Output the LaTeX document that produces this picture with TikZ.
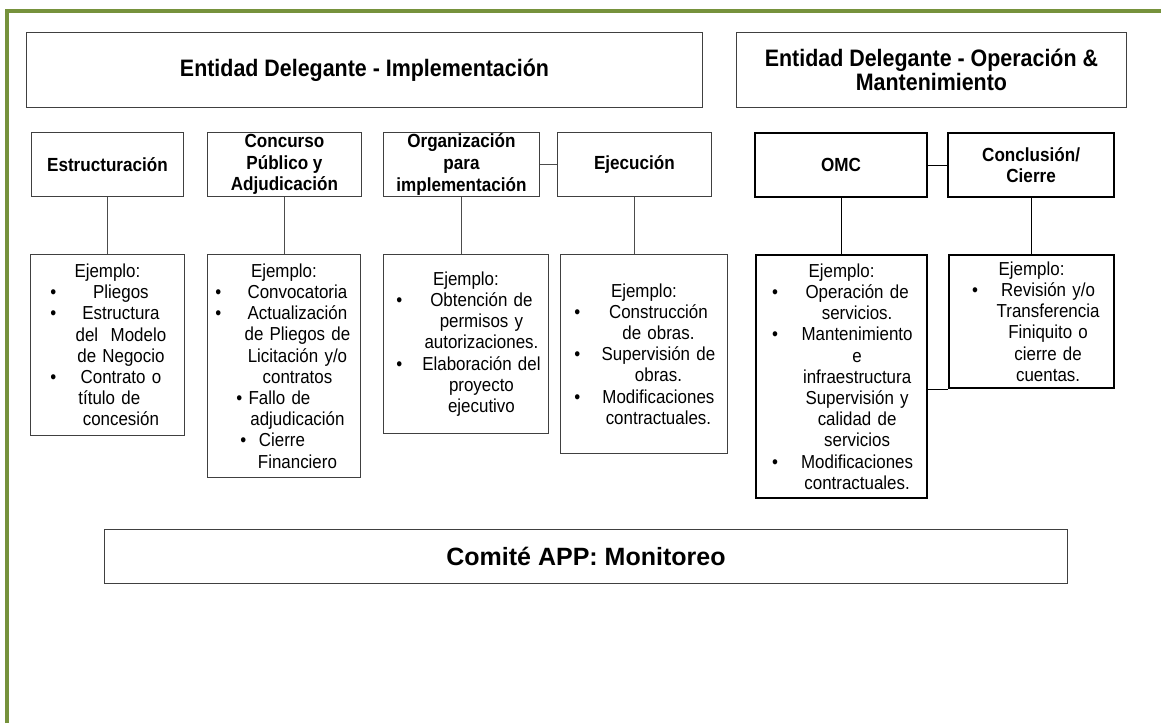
\documentclass[tikz,border=0pt]{standalone}
\usepackage{fontspec}
\setmainfont{Liberation Sans}[FakeStretch=0.9]
\newfontfamily\widesans{Liberation Sans}
\definecolor{framegreen}{RGB}{118,146,60}

\newlength\bulx
\newlength\txtx
\newcommand\bl[1]{\makebox[\linewidth][l]{\hspace{\bulx}\makebox[0pt]{\textbullet}\hspace{\dimexpr\txtx-\bulx\relax}\makebox[\dimexpr\linewidth-\txtx\relax]{#1}}}
\newcommand\ct[1]{\makebox[\linewidth][l]{\hspace{\txtx}\makebox[\dimexpr\linewidth-\txtx\relax]{#1}}}
\newcommand\lpos[2]{\makebox[\linewidth][l]{\hspace{#1}#2}}

\begin{document}
\begin{tikzpicture}[x=1pt, y=-1pt,
	topbox/.style={draw=black!75, line width=0.9pt, anchor=north west, align=center, minimum height=75, font=\fontsize{23.8}{23.5}\selectfont\bfseries},
	hdr/.style={draw=black!75, line width=0.9pt, anchor=north west, align=center, minimum height=64, inner sep=1pt, font=\fontsize{19}{21.7}\selectfont\bfseries},
	ex/.style={draw=black!75, line width=0.9pt, anchor=north west, align=center, inner xsep=0pt, inner ysep=2pt, font=\fontsize{18.8}{21.2}\selectfont},
	om/.style={draw=black, line width=2.2pt},
	bul/.style 2 args={execute at begin node={\setlength\bulx{#1}\setlength\txtx{#2}}},
	link/.style={draw=black!70, line width=0.9pt}]
	\useasboundingbox (0,0) rectangle (1161,723);
	\draw[framegreen, line width=4pt] (7.2,723) -- (7.2,11.3) -- (1161,11.3);
	
	\node[topbox, minimum width=676]                               (impl) at (26,32) {Entidad Delegante - Implementación};
	\node[topbox, minimum width=390]                               (opm) at (736,32) {Entidad Delegante - Operación \&\\Mantenimiento};
	
	\node[hdr, minimum width=152]                               (estr) at (31,132) {Estructuración};
	\node[hdr, minimum width=154]                               (conc) at (207,132) {Concurso\\Público y\\Adjudicación};
	\node[hdr, minimum width=156]                               (org) at (383,132) {Organización\\para\\implementación};
	\node[hdr, minimum width=154]                               (ejec) at (557,132) {Ejecución};
	\node[hdr, om, minimum width=172]                               (omc) at (754,132) {OMC};
	\node[hdr, om, minimum width=166]                               (cier) at (947,132) {Conclusión/\\Cierre};
	
	\node[ex, bul={23pt}{27pt}, text width=154, minimum height=181]                               (exestr) at (30,254) {Ejemplo:\\\bl{Pliegos}\\\bl{Estructura}\\\ct{del\ \ Modelo}\\\ct{de Negocio}\\\bl{Contrato o}\\\lpos{48pt}{título de}\\\ct{concesión}};
	\node[ex, bul={11pt}{27pt}, text width=153, minimum height=223]                               (exconc) at (207,254) {Ejemplo:\\\bl{Convocatoria}\\\bl{Actualización}\\\ct{de Pliegos de}\\\ct{Licitación y/o}\\\ct{contratos}\\\lpos{29pt}{\textbullet\ Fallo de}\\\ct{adjudicación}\\\lpos{33pt}{\textbullet\ \ Cierre}\\\ct{Financiero}};
	\node[ex, bul={16pt}{31pt}, text width=165, minimum height=179]                               (exorg) at (383,254) {Ejemplo:\\\bl{Obtención de}\\\ct{permisos y}\\\ct{autorizaciones.}\\\bl{Elaboración del}\\\ct{proyecto}\\\ct{ejecutivo}};
	\node[ex, bul={17pt}{29pt}, text width=167, minimum height=199]                               (exejec) at (560,254) {Ejemplo:\\\bl{Construcción}\\\ct{de obras.}\\\bl{Supervisión de}\\\ct{obras.}\\\bl{Modificaciones}\\\ct{contractuales.}};
	\node[ex, om, bul={19pt}{31pt}, text width=171, minimum height=243]                               (exomc) at (755,254) {Ejemplo:\\\bl{Operación de}\\\ct{servicios.}\\\bl{Mantenimiento}\\\ct{e}\\\ct{infraestructura}\\\ct{Supervisión y}\\\ct{calidad de}\\\ct{servicios}\\\bl{Modificaciones}\\\ct{contractuales.}};
	\node[ex, om, bul={26pt}{33pt}, text width=165, minimum height=133]                               (excier) at (948,254) {Ejemplo:\\\bl{Revisión y/o}\\\ct{Transferencia}\\\ct{Finiquito o}\\\ct{cierre de}\\\ct{cuentas.}};
	
	\node[draw=black!75, line width=0.9pt, anchor=north west, minimum width=963, minimum height=54, font=\widesans\fontsize{25}{28}\selectfont\bfseries]                               (mon) at (104,529) {Comité APP: Monitoreo};
	
	\draw[link] (estr.south) -- (estr.south |- exestr.north);
	\draw[link] (conc.south) -- (conc.south |- exconc.north);
	\draw[link] (org.south) -- (org.south |- exorg.north);
	\draw[link] (ejec.south) -- (ejec.south |- exejec.north);
	\draw[link] (org) -- (ejec);
	\draw[black, line width=1pt] (omc.south) -- (omc.south |- exomc.north);
	\draw[black, line width=1pt] (cier.south) -- (cier.south |- excier.north);
	\draw[black, line width=1pt] (omc) -- (cier);
	\draw[black, line width=1pt] (excier.south west) -- (excier.south west -| exomc.east);
\end{tikzpicture}
\end{document}
